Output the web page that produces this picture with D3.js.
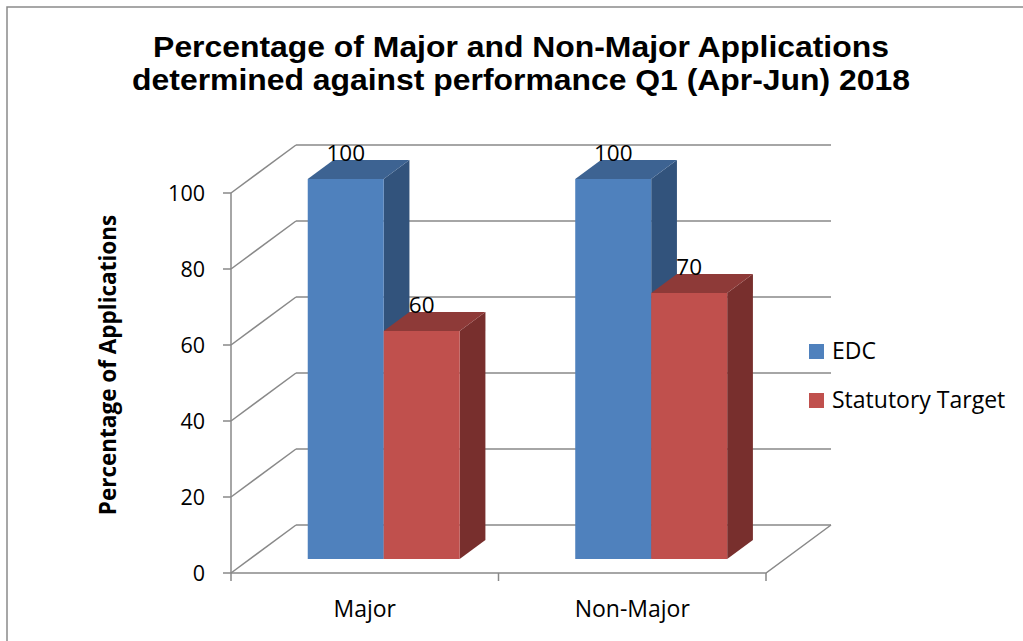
<!DOCTYPE html>
<html><head><meta charset="utf-8">
<script src="https://cdn.jsdelivr.net/npm/d3@7"></script>
<style>html,body{margin:0;padding:0;background:#fff;} svg{display:block;}</style>
</head><body>
<script>
const categories = ["Major", "Non-Major"];
const seriesNames = ["EDC", "Statutory Target"];
const edcValues = [100, 100];
const targetValues = [60, 70];
const yTicks = [0, 20, 40, 60, 80, 100];
const titleLines = ["Percentage of Major and Non-Major Applications", "determined against performance Q1 (Apr-Jun) 2018"];
const yAxisTitle = "Percentage of Applications";

const W = 1023, H = 641;
const svg = d3.select("body").append("svg").attr("width", W).attr("height", H);

const colors = {
  EDC: {front: "#4F81BD", top: "#3D6392", side: "#32537C"},
  "Statutory Target": {front: "#C0504D", top: "#8E3A38", side: "#782F2D"}
};
const series = [
  {name: "EDC", values: edcValues},
  {name: "Statutory Target", values: targetValues}
];
const bodyFont = "'Open Sans', sans-serif";
const titleFont = "'Liberation Sans', Arial, sans-serif";

// outer border
svg.append("path").attr("d", `M7,${H} L7,7 L${W},7`).attr("fill", "none").attr("stroke", "#8a8a8a").attr("stroke-width", 1.5);

// scales (front plane)
const y = d3.scaleLinear().domain([0, 100]).range([573, 193]);
const x = d3.scaleBand().domain(categories).range([231, 766]).paddingInner(0).paddingOuter(0);
const depth = {dx: 65, dy: -48};
const barFront = 14 / 48, barBack = 33 / 48;
const groupFrac = 0.568;
const s = d3.scaleBand().domain(seriesNames).range([0, x.bandwidth() * groupFrac]);
const groupOffset = x.bandwidth() * (1 - groupFrac) / 2;

const gridColor = "#898989";
const g = svg.append("g");

// side wall diagonals and back wall gridlines
yTicks.forEach(t => {
  g.append("line").attr("x1", x.range()[0]).attr("y1", y(t))
    .attr("x2", x.range()[0] + depth.dx).attr("y2", y(t) + depth.dy)
    .attr("stroke", gridColor).attr("stroke-width", 1.5);
  g.append("line").attr("x1", x.range()[0] + depth.dx).attr("y1", y(t) + depth.dy)
    .attr("x2", x.range()[1] + depth.dx).attr("y2", y(t) + depth.dy)
    .attr("stroke", gridColor).attr("stroke-width", 1.5);
});
// floor front and right edges
g.append("path").attr("d", `M${x.range()[0]},${y(0)} L${x.range()[1]},${y(0)} L${x.range()[1] + depth.dx},${y(0) + depth.dy}`)
  .attr("fill", "none").attr("stroke", gridColor).attr("stroke-width", 1.5);
// category ticks
[x.range()[0], x.range()[0] + x.bandwidth(), x.range()[1]].forEach(px => {
  g.append("line").attr("x1", px).attr("x2", px).attr("y1", y(0)).attr("y2", y(0) + 8)
    .attr("stroke", gridColor).attr("stroke-width", 1.5);
});
// y axis line and ticks
g.append("line").attr("x1", x.range()[0]).attr("x2", x.range()[0]).attr("y1", y(0)).attr("y2", y(100))
  .attr("stroke", gridColor).attr("stroke-width", 1.5);
yTicks.forEach(t => {
  g.append("line").attr("x1", x.range()[0] - 8).attr("x2", x.range()[0]).attr("y1", y(t)).attr("y2", y(t))
    .attr("stroke", gridColor).attr("stroke-width", 1.5);
  g.append("text").attr("x", x.range()[0] - 26).attr("y", y(t)).attr("dy", "0.35em")
    .attr("text-anchor", "end").style("font-family", bodyFont).attr("font-size", 21.5).attr("fill", "#000")
    .text(t);
});

// bars
const fdx = depth.dx * barFront, fdy = depth.dy * barFront;
const bdx = depth.dx * (barBack - barFront), bdy = depth.dy * (barBack - barFront);
const labels = [];
categories.forEach((c, ci) => {
  series.forEach(se => {
    const v = se.values[ci];
    const x0 = x(c) + fdx + groupOffset + s(se.name);
    const x1 = x0 + s.bandwidth();
    const yt = y(v) + fdy, yb = y(0) + fdy;
    const col = colors[se.name];
    g.append("path").attr("d", `M${x1},${yt} L${x1 + bdx},${yt + bdy} L${x1 + bdx},${yb + bdy} L${x1},${yb} Z`).attr("fill", col.side);
    g.append("path").attr("d", `M${x0},${yt} L${x0 + bdx},${yt + bdy} L${x1 + bdx},${yt + bdy} L${x1},${yt} Z`).attr("fill", col.top);
    g.append("rect").attr("x", x0).attr("y", yt).attr("width", x1 - x0).attr("height", yb - yt).attr("fill", col.front);
    labels.push({x: (x0 + x1) / 2, y: yt + bdy + 1, v});
  });
});
labels.forEach(l => {
  g.append("text").attr("x", l.x).attr("y", l.y).attr("text-anchor", "middle")
    .style("font-family", bodyFont).attr("font-size", 22.5).attr("fill", "#000").text(l.v);
});

// category labels
categories.forEach(c => {
  g.append("text").attr("x", x(c) + x.bandwidth() / 2).attr("y", 617).attr("text-anchor", "middle")
    .style("font-family", bodyFont).attr("font-size", 23).attr("fill", "#000").text(c);
});

// title
const titleBaselines = [57, 90];
titleLines.forEach((t, i) => {
  svg.append("text").attr("transform", `translate(521,${titleBaselines[i]}) scale(1.1,1)`).attr("text-anchor", "middle")
    .style("font-family", titleFont).attr("font-weight", "bold").attr("font-size", 29).attr("fill", "#000").text(t);
});

// y axis title
svg.append("text").attr("transform", "translate(116,365) rotate(-90)").attr("text-anchor", "middle")
  .style("font-family", bodyFont).attr("font-weight", "bold").attr("font-size", 22.5).attr("fill", "#000").text(yAxisTitle);

// legend
const legendY = [351, 400];
series.forEach((se, i) => {
  svg.append("rect").attr("x", 809).attr("y", legendY[i] - 7).attr("width", 15).attr("height", 15).attr("fill", colors[se.name].front);
  svg.append("text").attr("x", 832).attr("y", legendY[i]).attr("dy", "0.35em")
    .style("font-family", bodyFont).attr("font-size", 23).attr("fill", "#000").text(se.name);
});
</script>
</body></html>
